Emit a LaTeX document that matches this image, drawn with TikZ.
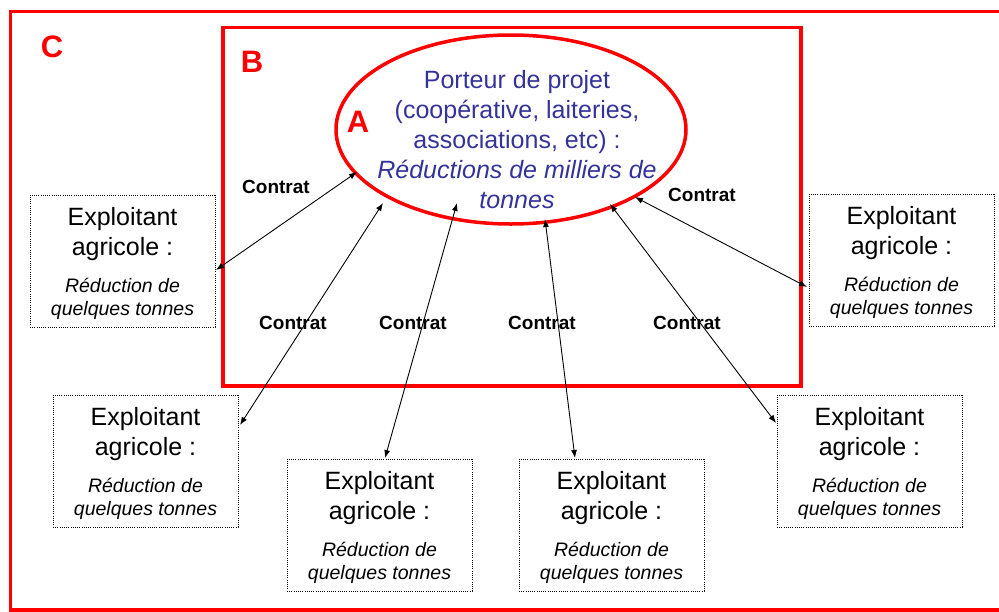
\documentclass[tikz,border=0pt]{standalone}
\usepackage{fontspec}
\setmainfont{Liberation Sans}
\usetikzlibrary{arrows.meta,shapes.geometric}
\definecolor{txtblue}{RGB}{51,51,153}
\definecolor{redline}{RGB}{255,0,0}
\newcommand\farmer[3]{%
  \node[farmbox] (#1) at (#2,#3) {};
  \node[big] (#1a) at (#2+92.5,#3+30) {Exploitant};
  \node[big] (#1b) at (#2+92.5,#3+60) {agricole :};
  \node[small] (#1c) at (#2+92.5,#3+97) {Réduction de};
  \node[small] (#1d) at (#2+92.5,#3+120) {quelques tonnes};
}
\begin{document}
\begin{tikzpicture}[x=1pt,y=-1pt,
  frame/.style={draw=redline,line width=3.5pt},
  farmbox/.style={draw,line width=0.9pt,dash pattern=on 0.9pt off 1.3pt,minimum width=185pt,minimum height=132pt,inner sep=0pt,outer sep=0pt,anchor=north west},
  big/.style={font=\fontsize{25}{30}\selectfont,anchor=base,inner sep=0pt},
  small/.style={font=\fontsize{19.5}{23}\selectfont\itshape,anchor=base,inner sep=0pt},
  contract/.style={font=\fontsize{19}{22}\selectfont\bfseries,inner sep=0pt},
  letter/.style={font=\fontsize{31}{36}\selectfont\bfseries,text=redline,inner sep=0pt},
  link/.style={{Latex[length=8pt,width=6pt]}-{Latex[length=8pt,width=6pt]},line width=0.9pt},
  etext/.style={font=\fontsize{25}{30}\selectfont,text=txtblue,anchor=base,inner sep=0pt}]

\useasboundingbox (0,0) rectangle (999,611);
\begin{scope}
  \clip (0,0) rectangle (999,611);
  \draw[frame] (1010,11.5) -- (10.5,11.5) -- (10.5,610) -- (1010,610);
\end{scope}

\node[frame,minimum width=578.2pt,minimum height=358.7pt,inner sep=0pt,outer sep=0pt,anchor=north west] (B) at (222.8,27.3) {};
\node[frame,ellipse,minimum width=350pt,minimum height=189pt,inner sep=0pt,outer sep=0pt] (A) at (511,129.5) {};

\node[letter] (lC) at (52,47) {C};
\node[letter] (lB) at (252,62) {B};
\node[letter] (lA) at (358,122) {A};

\node[etext] (t1) at (517,88) {Porteur de projet};
\node[etext] (t2) at (517,118) {(coopérative, laiteries,};
\node[etext] (t3) at (517,148) {associations, etc) :};
\node[etext,font=\fontsize{25}{30}\selectfont\itshape] (t4) at (517,178) {Réductions de milliers de};
\node[etext,font=\fontsize{25}{30}\selectfont\itshape] (t5) at (517,208) {tonnes};

\farmer{b1}{30}{195}
\farmer{b2}{809}{194}
\farmer{b3}{53}{395}
\farmer{b4}{287}{459}
\farmer{b5}{519}{459}
\farmer{b6}{777}{395}

\node[contract] (c1) at (276,187) {Contrat};
\node[contract] (c2) at (293,323) {Contrat};
\node[contract] (c3) at (413,323) {Contrat};
\node[contract] (c4) at (542,323) {Contrat};
\node[contract] (c5) at (687,323) {Contrat};
\node[contract] (c6) at (702,195) {Contrat};

\coordinate (e1) at (357,172);
\coordinate (e2) at (383,203);
\coordinate (e3) at (457,203);
\coordinate (e4) at (545,219);
\coordinate (e5) at (610,204);
\coordinate (e6) at (635,197);
\coordinate (f1) at (216,270);
\coordinate (f2) at (240,425);
\coordinate (f3) at (385,458);
\coordinate (f4) at (575,458);
\coordinate (f5) at (776,423);
\coordinate (f6) at (807,287);

\draw[link] (e1) -- (f1);
\draw[link] (e2) -- (f2);
\draw[link] (e3) -- (f3);
\draw[link] (e4) -- (f4);
\draw[link] (e5) -- (f5);
\draw[link] (e6) -- (f6);
\end{tikzpicture}
\end{document}
